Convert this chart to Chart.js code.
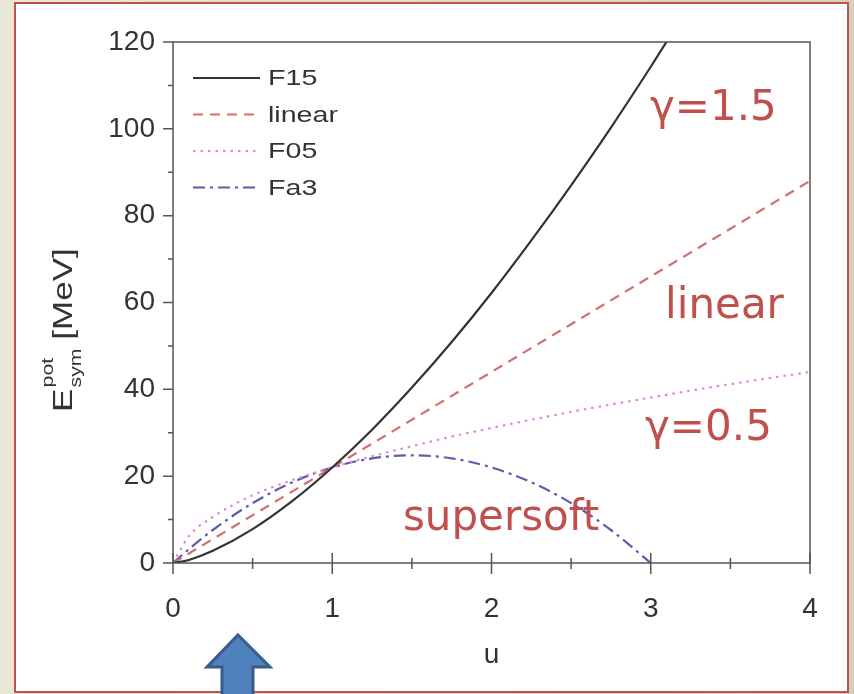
<!DOCTYPE html>
<html>
<head>
<meta charset="utf-8">
<script src="https://cdn.jsdelivr.net/npm/chart.js@4.4.1/dist/chart.umd.min.js"></script>
<style>
  html, body {
    margin: 0;
    padding: 0;
    width: 854px;
    height: 694px;
    overflow: hidden;
    background: linear-gradient(to right, #e9e7d5, #d4d1bb);
  }
  #panel {
    position: absolute;
    left: 14px;
    top: 2px;
    width: 831px;
    height: 687px;
    background: #fff;
    border: 2px solid #c0504d;
  }
  #chart {
    position: absolute;
    left: 0;
    top: 0;
  }
</style>
</head>
<body>
<div id="panel"></div>
<canvas id="chart" width="854" height="694"></canvas>
<script>
// Density ratio u and the potential symmetry energy for each parametrisation (MeV)
const uValues      = [0, 0.1, 0.25, 0.5, 0.75, 1, 1.25, 1.5, 1.75, 2, 2.25, 2.5, 2.75, 3, 3.25, 3.5, 3.75, 4];
const f15Values    = [0, 0.7, 2.8, 7.8, 14.3, 22, 30.7, 40.4, 50.9, 62.2, 74.3, 87.0, 100.3, 114.3, 128.9, null, null, null];
const linearValues = [0, 2.2, 5.5, 11, 16.5, 22, 27.5, 33, 38.5, 44, 49.5, 55, 60.5, 66, 71.5, 77, 82.5, 88];
const f05Values    = [0, 6.2, 10.6, 15.6, 19.1, 22, 24.6, 26.9, 29.1, 31.1, 33, 34.8, 36.5, 38.1, 39.7, 41.2, 42.6, 44];
const fa3Values    = [0, 3.2, 7.6, 13.8, 18.6, 22, 24.1, 24.8, 24.1, 22, 18.6, 13.8, 7.6, 0, null, null, null, null];

const seriesLabels = ["F15", "linear", "F05", "Fa3"];
const xMajorTicks = [0, 1, 2, 3, 4];
const xMinorTicks = [0.5, 1.5, 2.5, 3.5];
const yMajorTicks = [0, 20, 40, 60, 80, 100, 120];
const yMinorTicks = [10, 30, 50, 70, 90, 110];

// Text labels placed inside the plot, in data coordinates
const curveNotes = [
  { text: "γ=1.5", u: 2.995, e: 102.0 },
  { text: "linear", u: 3.09, e: 56.4 },
  { text: "γ=0.5", u: 2.964, e: 28.3 },
  { text: "supersoft", u: 1.444, e: 7.6 },
];

const lineStyles = [
  { color: "#333333", dash: [] },
  { color: "#d07070", dash: [10, 7] },
  { color: "#dd88dd", dash: [2.5, 5] },
  { color: "#5d5daa", dash: [12, 5, 3, 5] },
];

const FONT = '"Liberation Sans", Arial, sans-serif';
const TEXT_COLOR = "#333333";
const AXIS_COLOR = "#555555";

function toPoints(values) {
  return uValues
    .map((u, i) => ({ x: u, y: values[i] }))
    .filter((p) => p.y !== null);
}

const allSeries = [f15Values, linearValues, f05Values, fa3Values];

const datasets = allSeries.map((values, i) => ({
  label: seriesLabels[i],
  data: toPoints(values),
  borderColor: lineStyles[i].color,
  borderDash: lineStyles[i].dash,
  borderWidth: 2.2,
  pointRadius: 0,
  fill: false,
  cubicInterpolationMode: "monotone",
}));

// Frame, crossing ticks, legend, titles and notes
const decorations = {
  id: "decorations",
  afterDraw(chart) {
    const ctx = chart.ctx;
    const area = chart.chartArea;
    const xs = chart.scales.x;
    const ys = chart.scales.y;

    ctx.save();

    // plot frame
    ctx.strokeStyle = AXIS_COLOR;
    ctx.lineWidth = 1.5;
    ctx.setLineDash([]);
    ctx.strokeRect(area.left, area.top, area.right - area.left, area.bottom - area.top);

    // x ticks cross the axis
    ctx.beginPath();
    xMajorTicks.forEach((u) => {
      const px = xs.getPixelForValue(u);
      ctx.moveTo(px, area.bottom - 10);
      ctx.lineTo(px, area.bottom + 11);
    });
    xMinorTicks.forEach((u) => {
      const px = xs.getPixelForValue(u);
      ctx.moveTo(px, area.bottom - 5);
      ctx.lineTo(px, area.bottom + 6);
    });
    // y ticks point outwards
    yMajorTicks.forEach((v) => {
      const py = ys.getPixelForValue(v);
      ctx.moveTo(area.left - 10, py);
      ctx.lineTo(area.left, py);
    });
    yMinorTicks.forEach((v) => {
      const py = ys.getPixelForValue(v);
      ctx.moveTo(area.left - 5, py);
      ctx.lineTo(area.left, py);
    });
    ctx.stroke();

    // legend
    chart.data.datasets.forEach((ds, i) => {
      const y = area.top + 36 + i * 36.5;
      ctx.strokeStyle = ds.borderColor;
      ctx.lineWidth = 2;
      ctx.setLineDash(ds.borderDash);
      ctx.beginPath();
      ctx.moveTo(area.left + 20, y);
      ctx.lineTo(area.left + 87, y);
      ctx.stroke();
      ctx.save();
      ctx.translate(area.left + 95, y + 1);
      ctx.scale(1.3, 1);
      ctx.font = "22px " + FONT;
      ctx.textBaseline = "middle";
      ctx.textAlign = "left";
      ctx.fillStyle = TEXT_COLOR;
      ctx.fillText(ds.label, 0, 0);
      ctx.restore();
    });
    ctx.setLineDash([]);

    // x axis title
    ctx.fillStyle = TEXT_COLOR;
    ctx.font = "28px " + FONT;
    ctx.textAlign = "center";
    ctx.textBaseline = "alphabetic";
    ctx.fillText("u", (area.left + area.right) / 2, 663);

    // y axis title, rotated, with super- and subscript
    ctx.save();
    ctx.translate(72, 412);
    ctx.rotate(-Math.PI / 2);
    ctx.scale(1.25, 1);
    ctx.textAlign = "left";
    ctx.font = "28px " + FONT;
    ctx.fillText("E", 0, 0);
    const eW = ctx.measureText("E").width;
    ctx.font = "17px " + FONT;
    ctx.fillText("pot", eW + 1, -19);
    ctx.fillText("sym", eW + 1, 9);
    const subW = Math.max(ctx.measureText("pot").width, ctx.measureText("sym").width);
    ctx.font = "28px " + FONT;
    ctx.fillText("[MeV]", eW + subW + 8, 0);
    ctx.restore();

    // curve notes
    ctx.fillStyle = "#c0504d";
    ctx.font = '42px "DejaVu Sans", sans-serif';
    ctx.textAlign = "left";
    ctx.textBaseline = "alphabetic";
    curveNotes.forEach((n) => {
      ctx.fillText(n.text, xs.getPixelForValue(n.u), ys.getPixelForValue(n.e));
    });

    // up arrow below the axis
    ctx.beginPath();
    ctx.moveTo(238, 635);
    ctx.lineTo(270, 667);
    ctx.lineTo(253, 667);
    ctx.lineTo(253, 700);
    ctx.lineTo(222, 700);
    ctx.lineTo(222, 667);
    ctx.lineTo(207, 667);
    ctx.closePath();
    ctx.fillStyle = "#4f81bd";
    ctx.fill();
    ctx.strokeStyle = "#385d8a";
    ctx.lineWidth = 3;
    ctx.lineJoin = "miter";
    ctx.stroke();

    ctx.restore();
  },
};

new Chart(document.getElementById("chart"), {
  type: "line",
  data: { datasets: datasets },
  options: {
    responsive: false,
    animation: false,
    layout: { padding: { top: 42, right: 44, left: 0, bottom: 0 } },
    plugins: {
      legend: { display: false },
      tooltip: { enabled: false },
    },
    scales: {
      x: {
        type: "linear",
        min: 0,
        max: 4,
        afterFit: (scale) => { scale.height = 131; },
        grid: { display: false, drawTicks: false },
        border: { display: false },
        ticks: {
          stepSize: 1,
          padding: 29,
          color: TEXT_COLOR,
          font: { family: FONT, size: 28 },
        },
      },
      y: {
        min: 0,
        max: 120,
        afterFit: (scale) => { scale.width = 173; },
        grid: { display: false, drawTicks: false },
        border: { display: false },
        ticks: {
          stepSize: 20,
          padding: 18,
          color: TEXT_COLOR,
          font: { family: FONT, size: 28 },
        },
      },
    },
  },
  plugins: [decorations],
});
</script>
</body>
</html>
